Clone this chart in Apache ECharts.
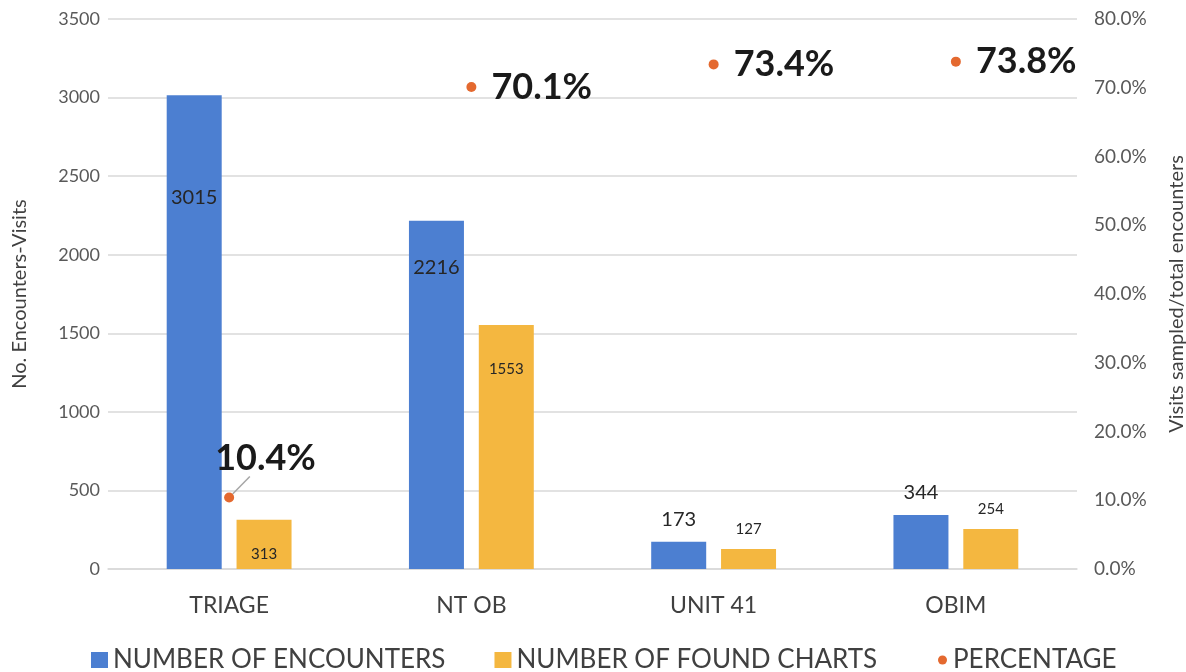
<!DOCTYPE html>
<html>
<head>
<meta charset="utf-8">
<script src="https://cdn.jsdelivr.net/npm/echarts@6/dist/echarts.min.js"></script>
<style>
  html, body { margin: 0; padding: 0; background: #fff; }
  #chart { width: 1186px; height: 672px; }
</style>
</head>
<body>
<div id="chart"></div>
<script>
const categories = ['TRIAGE', 'NT OB', 'UNIT 41', 'OBIM'];
const encounters = [3015, 2216, 173, 344];
const foundCharts = [313, 1553, 127, 254];
const percentage = [10.4, 70.1, 73.4, 73.8];

// label placement per bar (layout only)
const encLabelPos = [
  { position: 'insideTop', distance: 92 },
  { position: 'insideTop', distance: 37 },
  { position: 'top', distance: 12 },
  { position: 'top', distance: 12 }
];
const foundLabelPos = [
  { position: 'insideBottom', distance: 7 },
  { position: 'insideTop', distance: 37 },
  { position: 'top', distance: 12 },
  { position: 'top', distance: 12 }
];

const FONT = 'Lato';
const BLUE = '#4C7FD1';
const ORANGE = '#F4B740';
const DOT = '#E4692F';
const PCT_TEXT = { fontSize: 36, fontWeight: 'bold', color: '#1a1a1a', fontFamily: FONT };

const chart = echarts.init(document.getElementById('chart'));

const option = {
  animation: false,
  textStyle: { fontFamily: FONT },
  grid: { left: 108, right: 109, top: 19, bottom: 103, outerBoundsMode: 'none', containLabel: false },
  legend: [
    {
      top: 642,
      left: 86,
      itemGap: 49,
      itemWidth: 17,
      itemHeight: 16,
      textStyle: { fontSize: 26, color: '#404040', fontFamily: FONT },
      data: [
        { name: 'NUMBER OF ENCOUNTERS', icon: 'rect' },
        { name: 'NUMBER OF FOUND CHARTS', icon: 'rect' }
      ]
    },
    {
      top: 642,
      left: 933,
      itemWidth: 9,
      itemHeight: 9,
      textStyle: { fontSize: 26, color: '#404040', fontFamily: FONT, padding: [0, 0, 0, 1] },
      data: [{ name: 'PERCENTAGE', icon: 'circle' }]
    }
  ],
  xAxis: {
    type: 'category',
    data: categories,
    axisTick: { show: false },
    axisLine: { lineStyle: { color: '#d9d9d9', width: 1.5 } },
    axisLabel: { fontSize: 23, color: '#404040', margin: 25 }
  },
  yAxis: [
    {
      type: 'value',
      min: 0,
      max: 3500,
      interval: 500,
      name: 'No. Encounters-Visits',
      nameLocation: 'middle',
      nameRotate: 90,
      nameGap: 78,
      nameTextStyle: { fontSize: 20, color: '#404040' },
      axisLabel: { fontSize: 18, color: '#595959', margin: 8, formatter: (v) => String(v) },
      splitLine: { lineStyle: { color: '#d9d9d9', width: 1.5 } }
    },
    {
      type: 'value',
      min: 0,
      max: 80,
      interval: 10,
      position: 'right',
      name: 'Visits sampled/total encounters',
      nameLocation: 'middle',
      nameRotate: 90,
      nameGap: 90,
      nameTextStyle: { fontSize: 20, color: '#404040' },
      axisLabel: {
        fontSize: 19,
        color: '#595959',
        margin: 17,
        formatter: (v) => v.toFixed(1) + '%'
      },
      splitLine: { show: false }
    }
  ],
  series: [
    {
      name: 'NUMBER OF ENCOUNTERS',
      type: 'bar',
      barWidth: 55,
      barGap: '27%',
      itemStyle: { color: BLUE },
      label: { show: true, fontSize: 20, color: '#262626' },
      data: encounters.map((v, i) => ({ value: v, label: encLabelPos[i] }))
    },
    {
      name: 'NUMBER OF FOUND CHARTS',
      type: 'bar',
      barWidth: 55,
      itemStyle: { color: ORANGE },
      label: { show: true, fontSize: 15, color: '#262626' },
      data: foundCharts.map((v, i) => ({ value: v, label: foundLabelPos[i] }))
    },
    {
      name: 'PERCENTAGE',
      type: 'scatter',
      yAxisIndex: 1,
      symbol: 'circle',
      symbolSize: 10,
      itemStyle: { color: DOT, opacity: 1 },
      label: {
        show: true,
        position: 'right',
        distance: 15,
        ...PCT_TEXT,
        // first label sits above the point with a leader line; side spacers keep the line on its bottom edge
        formatter: (p) => {
          const txt = p.value.toFixed(1) + '%';
          return p.dataIndex === 0 ? '{s| }{v|' + txt + '}{s| }' : txt;
        },
        rich: { s: { width: 40 }, v: PCT_TEXT }
      },
      labelLayout: (p) => (p.dataIndex === 0 ? { dx: -74, dy: -39 } : {}),
      data: percentage.map((v, i) =>
        i === 0
          ? { value: v, labelLine: { show: true, lineStyle: { color: '#a6a6a6', width: 1.5 } } }
          : v
      )
    }
  ]
};

chart.setOption(option);
</script>
</body>
</html>
